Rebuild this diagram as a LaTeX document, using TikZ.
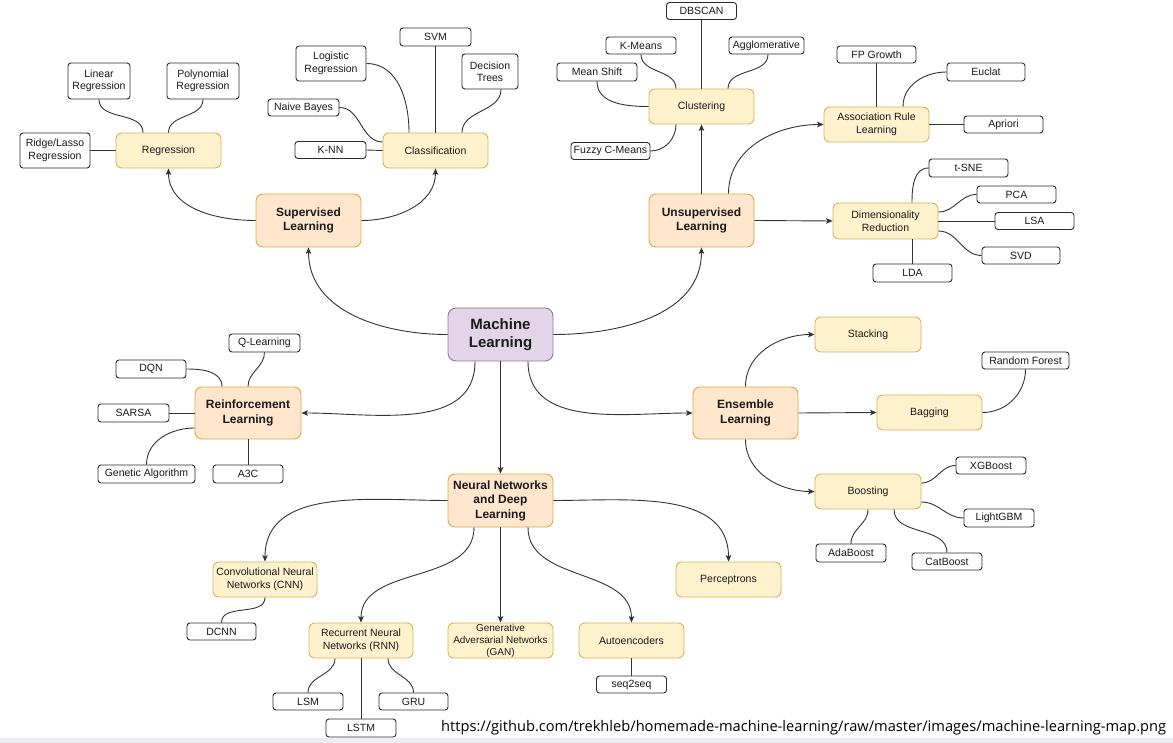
\documentclass[tikz,border=0pt]{standalone}
\usepackage{fontspec}
\setmainfont{Liberation Sans}
\newfontfamily\urlfont{Open Sans}
\usetikzlibrary{arrows.meta}
\definecolor{txt}{HTML}{1A1A1A}
\definecolor{wline}{HTML}{2B2B2B}
\definecolor{cline}{HTML}{333333}
\definecolor{yfill}{HTML}{FFF2CC}
\definecolor{yline}{HTML}{D6B656}
\definecolor{ofill}{HTML}{FFE6CC}
\definecolor{oline}{HTML}{DDAA40}
\definecolor{pfill}{HTML}{E1D5E7}
\definecolor{pline}{HTML}{9673A6}
\definecolor{strip}{HTML}{EEEEF2}
\tikzset{
 base/.style={rectangle, align=center, inner sep=0pt, text=txt, font=\fontsize{10.5}{12.5}\selectfont},
 sz/.style 2 args={minimum width=#1pt, minimum height=#2pt},
 wbox/.style={base, draw=wline, fill=white, rounded corners=3pt, line width=0.9pt},
 ybox/.style={base, draw=yline, fill=yfill, rounded corners=6pt, line width=0.9pt},
 obox/.style={base, draw=oline, fill=ofill, rounded corners=7pt, line width=0.9pt, font=\bfseries\fontsize{12}{14.5}\selectfont},
 pbox/.style={base, draw=pline, fill=pfill, rounded corners=8pt, line width=0.9pt, font=\bfseries\fontsize{15}{18}\selectfont},
 conn/.style={draw=cline, line width=0.9pt},
 arr/.style={conn, -{Stealth[length=6.5pt,width=5.5pt,inset=1.5pt]}},
}
\begin{document}
\begin{tikzpicture}[x=1pt,y=1pt]
\useasboundingbox (0,0) rectangle (1173,-743);
\fill[white] (0,0) rectangle (1173,-743);
\fill[strip] (0,-738) rectangle (1173,-743);

% ---------- main nodes
\node[pbox, sz={105}{53}] (ml) at (500.5,-334.5) {Machine\\Learning};
\node[obox, sz={105}{53}] (sup) at (308.5,-220.5) {Supervised\\Learning};
\node[obox, sz={105}{53}] (unsup) at (701.5,-220.5) {Unsupervised\\Learning};
\node[obox, sz={106}{52}] (rl) at (248,-413) {Reinforcement\\Learning};
\node[obox, sz={105}{52}] (ens) at (745.5,-413) {Ensemble\\Learning};
\node[obox, sz={105}{53}] (nn) at (500.5,-500.5) {Neural Networks\\and Deep\\Learning};

% ---------- supervised
\node[ybox, sz={105}{35}] (regression) at (168.5,-150.5) {Regression};
\node[wbox, sz={62}{36}] (linreg) at (99,-81) {Linear\\Regression};
\node[wbox, sz={72}{36}] (polyreg) at (203,-81) {Polynomial\\Regression};
\node[wbox, sz={70}{35}] (ridge) at (55,-150.5) {Ridge/Lasso\\Regression};
\node[ybox, sz={105}{35}] (classif) at (435.5,-150.5) {Classification};
\node[wbox, sz={71}{18}] (svm) at (435.5,-37) {SVM};
\node[wbox, sz={70}{35}] (logreg) at (331,-63.5) {Logistic\\Regression};
\node[wbox, sz={56}{35}] (dtrees) at (490,-71.5) {Decision\\Trees};
\node[wbox, sz={71}{17}] (nbayes) at (303.5,-107.5) {Naive Bayes};
\node[wbox, sz={71}{17}] (knn) at (330.5,-150) {K-NN};

% ---------- unsupervised
\node[ybox, sz={105}{35}] (clustering) at (701.5,-106.5) {Clustering};
\node[wbox, sz={70}{17}] (dbscan) at (701.5,-11) {DBSCAN};
\node[wbox, sz={70}{17}] (kmeans) at (641,-45.5) {K-Means};
\node[wbox, sz={75}{17}] (agglo) at (766.5,-45.5) {Agglomerative};
\node[wbox, sz={80}{18}] (meanshift) at (597,-72) {Mean Shift};
\node[wbox, sz={79}{17}] (fuzzy) at (610.5,-151) {Fuzzy C-Means};
\node[ybox, sz={105}{35}] (arl) at (876.5,-124.5) {Association Rule\\Learning};
\node[wbox, sz={79}{17}] (fpgrowth) at (876.5,-54.5) {FP Growth};
\node[wbox, sz={78}{18}] (euclat) at (986,-72) {Euclat};
\node[wbox, sz={79}{17}] (apriori) at (1003.5,-124.5) {Apriori};
\node[ybox, sz={105}{36}] (dimred) at (885.5,-221) {Dimensionality\\Reduction};
\node[wbox, sz={79}{18}] (tsne) at (968.5,-168) {t-SNE};
\node[wbox, sz={79}{17}] (pca) at (1016.5,-194.5) {PCA};
\node[wbox, sz={79}{17}] (lsa) at (1034.5,-221) {LSA};
\node[wbox, sz={78}{17}] (svd) at (1021,-255.5) {SVD};
\node[wbox, sz={79}{18}] (lda) at (912.5,-273) {LDA};

% ---------- reinforcement
\node[wbox, sz={71}{18}] (qlearn) at (264.5,-343) {Q-Learning};
\node[wbox, sz={70}{18}] (dqn) at (151,-369) {DQN};
\node[wbox, sz={71}{18}] (sarsa) at (133.5,-413) {SARSA};
\node[wbox, sz={97}{18}] (genetic) at (146.5,-474) {Genetic Algorithm};
\node[wbox, sz={70}{18}] (a3c) at (248,-474) {A3C};

% ---------- ensemble
\node[ybox, sz={106}{35}] (stacking) at (868,-334.5) {Stacking};
\node[ybox, sz={105}{35}] (bagging) at (929.5,-412.5) {Bagging};
\node[wbox, sz={87}{17}] (rforest) at (1025.5,-360.5) {Random Forest};
\node[ybox, sz={106}{35}] (boosting) at (868,-491.5) {Boosting};
\node[wbox, sz={70}{17}] (xgboost) at (991,-465.5) {XGBoost};
\node[wbox, sz={70}{18}] (lightgbm) at (999,-518) {LightGBM};
\node[wbox, sz={70}{18}] (adaboost) at (851,-553) {AdaBoost};
\node[wbox, sz={70}{17}] (catboost) at (947,-561.5) {CatBoost};

% ---------- neural networks
\node[ybox, sz={104}{35}] (cnn) at (265,-579.5) {Convolutional Neural\\Networks (CNN)};
\node[wbox, sz={69}{17}] (dcnn) at (221.5,-631.5) {DCNN};
\node[ybox, sz={104}{35}] (rnn) at (361,-640.5) {Recurrent Neural\\Networks (RNN)};
\node[wbox, sz={70}{17}] (lsm) at (308,-701.5) {LSM};
\node[wbox, sz={69}{17}] (gru) at (413.5,-701.5) {GRU};
\node[wbox, sz={70}{18}] (lstm) at (361,-728) {LSTM};
\node[ybox, sz={105}{35}, font=\fontsize{10}{12}\selectfont] (gan) at (500.5,-640.5) {Generative\\Adversarial Networks\\(GAN)};
\node[ybox, sz={105}{35}] (autoenc) at (631.5,-640.5) {Autoencoders};
\node[wbox, sz={70}{17}] (seq2seq) at (631.5,-684.5) {seq2seq};
\node[ybox, sz={105}{35}] (perceptrons) at (728.5,-579.5) {Perceptrons};

% ---------- connectors: machine learning
\draw[arr] (ml.west) to[out=180,in=-90] (sup.south);
\draw[arr] (ml.east) to[out=0,in=-90] (unsup.south);
\draw[arr] ([xshift=-25.5pt]ml.south) to[out=-90,in=0] (rl.east);
\draw[arr] (ml.south) -- (nn.north);
\draw[arr] ([xshift=27.5pt]ml.south) to[out=-90,in=180] (ens.west);

% supervised
\draw[arr] (sup.west) to[out=180,in=-90] (regression.south);
\draw[arr] (sup.east) to[out=0,in=-90] (classif.south);
\draw[conn] (linreg.south) to[out=-90,in=90] ([xshift=-25.5pt]regression.north);
\draw[conn] (polyreg.south) to[out=-90,in=90] (regression.north);
\draw[conn] (ridge.east) -- (regression.west);
\draw[conn] (logreg.east) to[out=0,in=90] ([xshift=-26.5pt]classif.north);
\draw[conn] (svm.south) -- (classif.north);
\draw[conn] ([xshift=11pt]dtrees.south) to[out=-90,in=90] ([xshift=26.5pt]classif.north);
\draw[conn] (nbayes.east) to[out=0,in=180] ([yshift=8.5pt]classif.west);
\draw[conn] (knn.east) -- (classif.west);

% unsupervised
\draw[arr] (unsup.north) -- (clustering.south);
\draw[arr] ([xshift=27pt]unsup.north) to[out=90,in=180] (arl.west);
\draw[arr] (unsup.east) -- (dimred.west);
\draw[conn] (dbscan.south) -- (clustering.north);
\draw[conn] (kmeans.south) to[out=-90,in=90] ([xshift=-25.5pt]clustering.north);
\draw[conn] ([xshift=1.5pt]agglo.south) to[out=-90,in=90] ([xshift=26.5pt]clustering.north);
\draw[conn] (meanshift.south) to[out=-90,in=180] (clustering.west);
\draw[conn] (fuzzy.east) to[out=0,in=-90] ([xshift=-25.5pt]clustering.south);
\draw[conn] (fpgrowth.south) -- (arl.north);
\draw[conn] (euclat.west) to[out=180,in=90] ([xshift=26.5pt]arl.north);
\draw[conn] (arl.east) -- (apriori.west);
\draw[conn] (tsne.west) to[out=180,in=90] ([xshift=26.5pt]dimred.north);
\draw[conn] (pca.west) to[out=180,in=0] ([yshift=9pt]dimred.east);
\draw[conn] (dimred.east) -- (lsa.west);
\draw[conn] (svd.west) to[out=180,in=0] ([yshift=-10pt]dimred.east);
\draw[conn] (lda.north) -- (lda.north |- dimred.south);

% reinforcement
\draw[conn] (qlearn.south) to[out=-90,in=90] (rl.north);
\draw[conn] (dqn.east) to[out=0,in=90] ([xshift=-26pt]rl.north);
\draw[conn] (sarsa.east) -- (rl.west);
\draw[conn] (genetic.north) to[out=90,in=180] ([yshift=-15pt]rl.west);
\draw[conn] (a3c.north) -- (rl.south);

% ensemble
\draw[arr] (ens.north) to[out=90,in=180] (stacking.west);
\draw[arr] (ens.east) -- (bagging.west);
\draw[arr] (ens.south) to[out=-90,in=180] (boosting.west);
\draw[conn] (rforest.south) to[out=-90,in=0] (bagging.east);
\draw[conn] (xgboost.west) to[out=180,in=0] ([yshift=8.5pt]boosting.east);
\draw[conn] (lightgbm.west) to[out=180,in=0] ([yshift=-10.5pt]boosting.east);
\draw[conn] (adaboost.north) to[out=90,in=-90] (boosting.south);
\draw[conn] (catboost.north) to[out=90,in=-90] ([xshift=26pt]boosting.south);

% neural networks
\draw[arr] (nn.west) to[out=180,in=90] (cnn.north);
\draw[arr] ([xshift=-26.5pt]nn.south) to[out=-90,in=90] (rnn.north);
\draw[arr] (nn.south) -- (gan.north);
\draw[arr] ([xshift=27.5pt]nn.south) to[out=-90,in=90] (autoenc.north);
\draw[arr] (nn.east) to[out=0,in=90] (perceptrons.north);
\draw[conn] (cnn.south) to[out=-90,in=90] (dcnn.north);
\draw[conn] ([xshift=-26pt]rnn.south) to[out=-90,in=90] (lsm.north);
\draw[conn] (rnn.south) -- (lstm.north);
\draw[conn] ([xshift=27pt]rnn.south) to[out=-90,in=90] (gru.north);
\draw[conn] (autoenc.south) -- (seq2seq.north);

% url
\node[anchor=base west, inner sep=0pt, text=black] (url) at (441,-731) {\resizebox{725pt}{!}{\urlfont\fontsize{14}{16}\selectfont https://github.com/trekhleb/homemade-machine-learning/raw/master/images/machine-learning-map.png}};
\end{tikzpicture}
\end{document}
